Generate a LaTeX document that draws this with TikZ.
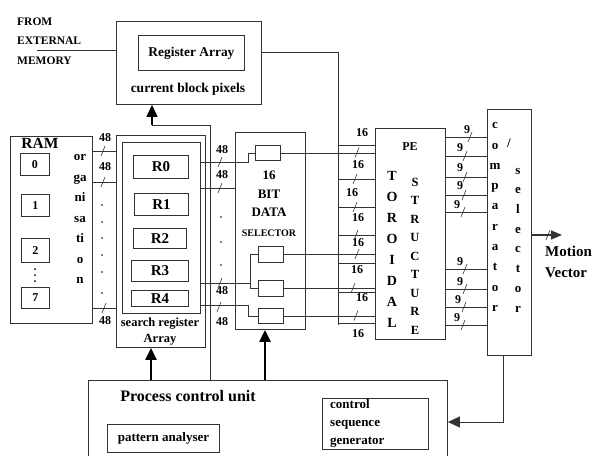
\documentclass[tikz,border=0pt]{standalone}
\usepackage{fontspec}
\setmainfont{Liberation Serif}
\usepackage{tikz}
\usetikzlibrary{arrows.meta}
\tikzset{
  blk/.style = {draw=black!80, line width=0.9pt, inner sep=0pt,
    anchor=north west},% plain block, placed by its top left corner
  reg_box/.style = {blk, font=\fontsize{15}{15}\selectfont\bfseries},
  cell_box/.style = {blk, font=\fontsize{12}{12}\selectfont\bfseries},
  txt/.style = {inner sep=0pt, font=\fontsize{13}{13}\selectfont\bfseries},
  bus_lbl/.style = {inner sep=0pt, font=\fontsize{12}{12}\selectfont\bfseries},
  wire/.style = {draw=black!80, line width=0.9pt},
  ctrl_arrow/.style = {draw=black, line width=2.2pt,
    -{Triangle[width=11pt,length=12pt]}}
}
\newcommand{\busmark}[2]{\draw [wire, line width=0.6pt] (#1,#2) ++(-2,5) -- ++(4,-10);}

\begin{document}
\begin{tikzpicture}[x=1pt, y=-1pt]
  \useasboundingbox (0,0) rectangle (593,455);

  % current block
  \node [txt, align=left, font=\fontsize{11.5}{19.5}\selectfont\bfseries, anchor=west] (ext_mem) at (17,41) {FROM\\EXTERNAL\\MEMORY};
  \node [blk, minimum width=145, minimum height=83] (cur_blk) at (116,21) {};
  \node [blk, minimum width=106, minimum height=35, font=\fontsize{13.4}{14}\selectfont\bfseries] (reg_arr) at (138,35) {Register Array};
  \node [txt, font=\fontsize{13.5}{14}\selectfont\bfseries] (cur_lbl) at (188,89) {current block pixels};
  \coordinate (ext_in) at (37,50);
  \draw [wire] (ext_in) -- (ext_in -| cur_blk.west);

  % RAM
  \node [blk, minimum width=82, minimum height=187] (ram) at (10,136) {};
  \node [txt, font=\fontsize{15.5}{16}\selectfont\bfseries] (ram_lbl) at (40,143) {RAM};
  \node [cell_box, minimum width=29, minimum height=22] (cell0) at (20,153) {0};
  \node [cell_box, minimum width=28, minimum height=22] (cell1) at (21,194) {1};
  \node [cell_box, minimum width=28, minimum height=24] (cell2) at (21,238) {2};
  \node [cell_box, minimum width=28, minimum height=21] (cell7) at (21,287) {7};
  \fill (35,269) circle (1) (35,275) circle (1) (35,281) circle (1);
  \node [txt, align=center, font=\fontsize{13}{20.5}\selectfont\bfseries] (org_lbl) at (80,219) {or\\ga\\ni\\sa\\ti\\o\\n};

  % search register array
  \node [blk, minimum width=89, minimum height=212] (search_out) at (116,135) {};
  \node [blk, minimum width=78, minimum height=171] (search_in) at (122,142) {};
  \node [reg_box, minimum width=55, minimum height=23] (r0) at (133,155) {R0};
  \node [reg_box, minimum width=54, minimum height=22] (r1) at (134,193) {R1};
  \node [reg_box, minimum width=53, minimum height=20] (r2) at (133,228) {R2};
  \node [reg_box, minimum width=57, minimum height=21] (r3) at (131,260) {R3};
  \node [reg_box, minimum width=57, minimum height=16] (r4) at (131,290) {R4};
  \node [txt, align=center, font=\fontsize{12.5}{16}\selectfont\bfseries] (search_lbl) at (160,332) {search register\\Array};

  % RAM to search register
  \draw [wire] (ram.east |- 0,151) -- (search_out.west |- 0,151);
  \draw [wire] (ram.east |- 0,182) -- (search_out.west |- 0,182);
  \draw [wire] (ram.east |- 0,308) -- (search_out.west |- 0,308);
  \node [bus_lbl] (b48_a) at (105,138) {48};
  \node [bus_lbl] (b48_b) at (105,167) {48};
  \node [bus_lbl] (b48_c) at (105,321) {48};
  \busmark{103}{151}
  \busmark{103}{182}
  \busmark{104}{308}
  \fill (102,205) circle (0.9) (102,222) circle (0.9) (102,238) circle (0.9)
        (102,255) circle (0.9) (102,272) circle (0.9) (102,293) circle (0.9);

  % data selector
  \node [blk, minimum width=70, minimum height=197] (sel) at (235,132) {};
  \node [txt, align=center, font=\fontsize{13}{18.5}\selectfont\bfseries] (sel_lbl) at (269,194) {16\\BIT\\DATA};
  \node [txt, font=\fontsize{10}{10}\selectfont\bfseries] (sel_lbl2) at (269,233) {SELECTOR};
  \node [blk, minimum width=25, minimum height=15] (sel_top) at (255,145) {};
  \node [blk, minimum width=25, minimum height=16] (sel_a) at (258,246) {};
  \node [blk, minimum width=25, minimum height=16] (sel_b) at (258,280) {};
  \node [blk, minimum width=25, minimum height=15] (sel_c) at (258,308) {};
  \coordinate (fork_r0) at (248,162);
  \coordinate (fork_r3) at (250,283);
  \coordinate (fork_r4) at (248,305);
  \draw [wire] (search_in.east |- fork_r0) -- (fork_r0) -- (fork_r0 |- sel_top.west) -- (sel_top.west);
  \draw [wire] (search_in.east |- 0,188) -- (sel.west |- 0,188);
  \draw [wire] (search_in.east |- fork_r3) -- (fork_r3);
  \draw [wire] (fork_r3 |- sel_a.west) -- (fork_r3 |- sel_b.west);
  \draw [wire] (fork_r3 |- sel_a.west) -- (sel_a.west);
  \draw [wire] (fork_r3 |- sel_b.west) -- (sel_b.west);
  \draw [wire] (search_in.east |- fork_r4) -- (fork_r4) -- (fork_r4 |- sel_c.west) -- (sel_c.west);
  \node [bus_lbl] (b48_d) at (222,150) {48};
  \node [bus_lbl] (b48_e) at (222,175) {48};
  \node [bus_lbl] (b48_f) at (222,291) {48};
  \node [bus_lbl] (b48_g) at (222,322) {48};
  \busmark{220}{162}
  \busmark{220}{188}
  \busmark{220}{283}
  \busmark{219}{307}
  \fill (221,217) circle (0.9) (221,242) circle (0.9) (221,265) circle (0.9);

  % PE toroidal structure
  \node [blk, minimum width=70, minimum height=211] (pe) at (375,128) {};
  \node [txt, font=\fontsize{12}{12}\selectfont\bfseries] (pe_lbl) at (410,147) {PE};
  \node [txt, align=center, font=\fontsize{14}{21}\selectfont\bfseries] (toro_lbl) at (392,249) {T\\O\\R\\O\\I\\D\\A\\L};
  \node [txt, align=center, font=\fontsize{12.5}{18.5}\selectfont\bfseries] (struct_lbl) at (415,256) {S\\T\\R\\U\\C\\T\\U\\R\\E};

  % selector and register array to PE
  \draw [wire] (sel_top.east) -- (sel_top.east -| pe.west);
  \draw [wire] (sel_a.east) -- (sel_a.east -| pe.west);
  \draw [wire] (sel_b.east) -- (sel_b.east -| pe.west);
  \draw [wire] (sel_c.east) -- (sel_c.east -| pe.west);
  \coordinate (reg_bus_top) at (338,52);
  \coordinate (reg_bus_bot) at (338,325);
  \draw [wire] (cur_blk.east |- reg_bus_top) -- (reg_bus_top) -- (reg_bus_bot);
  \draw [wire] (reg_bus_top |- 0,145) -- (pe.west |- 0,145);
  \draw [wire] (reg_bus_top |- 0,179) -- (pe.west |- 0,179);
  \draw [wire] (reg_bus_top |- 0,207) -- (pe.west |- 0,207);
  \draw [wire] (reg_bus_top |- 0,235) -- (pe.west |- 0,235);
  \draw [wire] (reg_bus_top |- 0,263) -- (pe.west |- 0,263);
  \draw [wire] (reg_bus_top |- 0,292) -- (pe.west |- 0,292);
  \draw [wire] (reg_bus_top |- 0,323) -- (pe.west |- 0,323);
  \node [bus_lbl] (b16_a) at (362,133) {16};
  \node [bus_lbl] (b16_b) at (358,165) {16};
  \node [bus_lbl] (b16_c) at (352,193) {16};
  \node [bus_lbl] (b16_d) at (358,218) {16};
  \node [bus_lbl] (b16_e) at (358,243) {16};
  \node [bus_lbl] (b16_f) at (357,270) {16};
  \node [bus_lbl] (b16_g) at (362,298) {16};
  \node [bus_lbl] (b16_h) at (358,334) {16};
  \busmark{357}{152.5}
  \busmark{355}{179}
  \busmark{355}{207}
  \busmark{356}{235}
  \busmark{357}{254}
  \busmark{353}{288}
  \busmark{356}{315.5}

  % comparator / selector
  \node [blk, minimum width=44, minimum height=246] (comp) at (487,109) {};
  \node [txt, align=center, font=\fontsize{13}{20.3}\selectfont\bfseries] (comp_lbl) at (495,217) {c\\o\\m\\p\\a\\r\\a\\t\\o\\r};
  \node [txt, align=center, font=\fontsize{13}{19.7}\selectfont\bfseries] (csel_lbl) at (518,240) {s\\e\\l\\e\\c\\t\\o\\r};
  \node [txt] (slash_lbl) at (509,143) {/};
  \draw [wire] (pe.east |- 0,137) -- (comp.west |- 0,137);
  \draw [wire] (pe.east |- 0,156) -- (comp.west |- 0,156);
  \draw [wire] (pe.east |- 0,177) -- (comp.west |- 0,177);
  \draw [wire] (pe.east |- 0,195) -- (comp.west |- 0,195);
  \draw [wire] (pe.east |- 0,212) -- (comp.west |- 0,212);
  \draw [wire] (pe.east |- 0,269) -- (comp.west |- 0,269);
  \draw [wire] (pe.east |- 0,289) -- (comp.west |- 0,289);
  \draw [wire] (pe.east |- 0,307) -- (comp.west |- 0,307);
  \draw [wire] (pe.east |- 0,325) -- (comp.west |- 0,325);
  \node [bus_lbl] (b9_a) at (467,130) {9};
  \node [bus_lbl] (b9_b) at (460,148) {9};
  \node [bus_lbl] (b9_c) at (460,168) {9};
  \node [bus_lbl] (b9_d) at (460,186) {9};
  \node [bus_lbl] (b9_e) at (457,205) {9};
  \node [bus_lbl] (b9_f) at (460,262) {9};
  \node [bus_lbl] (b9_g) at (460,282) {9};
  \node [bus_lbl] (b9_h) at (458,300) {9};
  \node [bus_lbl] (b9_i) at (457,318) {9};
  \busmark{470}{137}
  \busmark{465}{156}
  \busmark{465}{177}
  \busmark{464}{195}
  \busmark{463}{212}
  \busmark{465}{269}
  \busmark{465}{289}
  \busmark{464}{307}
  \busmark{463}{325}

  % motion vector out
  \coordinate (mv_tip) at (562,235);
  \draw [wire, line width=1.4pt, -{Triangle[width=9pt,length=11pt]}] (comp.east |- mv_tip) -- (mv_tip);
  \busmark{548}{235}
  \node [txt, align=left, anchor=west, font=\fontsize{15}{21}\selectfont\bfseries] (mv_lbl) at (545,262) {Motion\\Vector};

  % process control unit
  \node [blk, minimum width=359, minimum height=85] (pcu) at (88,380) {};
  \node [txt, font=\fontsize{16}{16}\selectfont\bfseries] (pcu_lbl) at (188,396) {Process control unit};
  \node [blk, minimum width=112, minimum height=28, font=\fontsize{13}{13}\selectfont\bfseries] (pat_an) at (107,424) {pattern analyser};
  \node [blk, minimum width=106, minimum height=51] (csg) at (322,398) {};
  \node [txt, align=left, anchor=west, font=\fontsize{13}{18}\selectfont\bfseries] (csg_lbl) at (330,423) {control\\sequence\\generator};

  % control paths
  \coordinate (sr_ctl) at (151,380);
  \coordinate (sel_ctl) at (265,380);
  \coordinate (cb_ctl) at (210,380);
  \coordinate (cb_turn) at (152,125);
  \coordinate (fb_corner) at (503,422);
  \draw [ctrl_arrow] (sr_ctl) -- (sr_ctl |- search_out.south);
  \draw [ctrl_arrow] (sel_ctl) -- (sel_ctl |- sel.south);
  \draw [wire] (cb_ctl) -- (cb_ctl |- cb_turn) -- (cb_turn);
  \draw [ctrl_arrow, line width=1.5pt] (cb_turn) -- (cb_turn |- cur_blk.south);
  \draw [wire, -{Triangle[width=11pt,length=12pt]}] (comp.south -| fb_corner) -- (fb_corner) -- (fb_corner -| pcu.east);
\end{tikzpicture}
\end{document}
